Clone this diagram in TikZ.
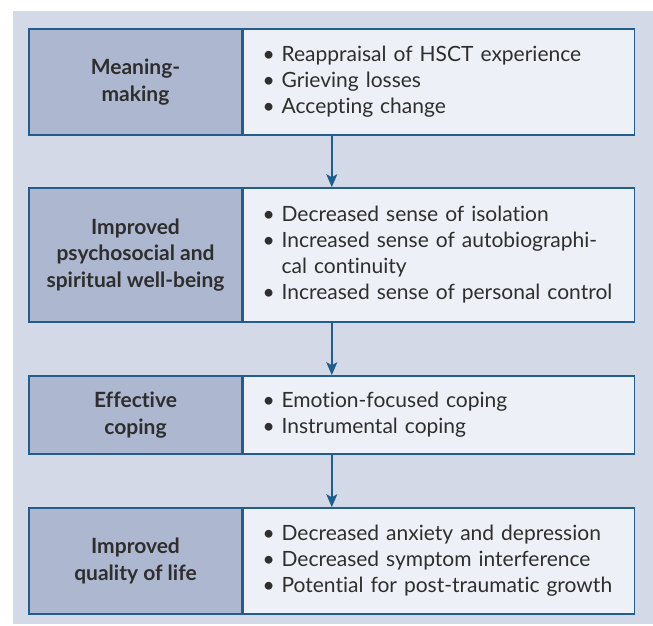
\documentclass[tikz,border=0pt]{standalone}
\usepackage{fontspec}
\setmainfont{Lato}[Ligatures=NoCommon]
\usetikzlibrary{arrows.meta, positioning}
\definecolor{panelgrey}{HTML}{D3D9E6}
\definecolor{stepblue}{HTML}{ADB7D0}
\definecolor{itemwhite}{HTML}{EDF0F6}
\definecolor{ruleblue}{HTML}{1F5E8E}
\definecolor{inkgrey}{HTML}{2E2E2E}
\newcommand{\itm}[1]{\mbox{\makebox[19pt][l]{\textbullet}#1}}
\newcommand{\cont}[1]{\mbox{\hspace*{19pt}#1}}

\begin{document}
\begin{tikzpicture}[x=1pt, y=-1pt,
      phase/.style={draw=ruleblue, line width=1.6pt, fill=stepblue,
                    text=inkgrey, font=\fontsize{21}{26.5}\selectfont\bfseries,
                    align=center, minimum width=213pt, inner sep=0pt},
      items/.style={draw=ruleblue, line width=1.6pt, fill=itemwhite,
                    text=inkgrey, font=\fontsize{21}{26}\selectfont,
                    align=left, text width=353pt, inner xsep=19pt,
                    inner ysep=0pt},
      arr/.style={-{Stealth[length=13pt, width=11pt, inset=3pt]},
                  line width=1.6pt, ruleblue}
    ]
      \useasboundingbox (0,0) rectangle (653,625);
      \fill[panelgrey] (13,11) rectangle (653,624);

      \node[phase, minimum height=106pt] (p1) at (135.5,82) {Meaning-\\making};
      \node[phase, minimum height=134pt] (p2) at (135.5,255) {Improved\\psychosocial and\\spiritual well-being};
      \node[phase, minimum height=78pt] (p3) at (135.5,415) {Effective\\coping};
      \node[phase, minimum height=106pt] (p4) at (135.5,561) {Improved\\quality of life};

      \node[items, minimum height=106pt, right=0pt of p1] (i1)
        {\itm{Reappraisal of HSCT experience}\\
         \itm{Grieving losses}\\
         \itm{Accepting change}};
      \node[items, minimum height=134pt, right=0pt of p2] (i2)
        {\itm{Decreased sense of isolation}\\
         \itm{Increased sense of autobiographi-}\\
         \cont{cal continuity}\\
         \itm{Increased sense of personal control}};
      \node[items, minimum height=78pt, right=0pt of p3] (i3)
        {\itm{Emotion-focused coping}\\
         \itm{Instrumental coping}};
      \node[items, minimum height=106pt, right=0pt of p4] (i4)
        {\itm{Decreased anxiety and depression}\\
         \itm{Decreased symptom interference}\\
         \itm{Potential for post-traumatic growth}};

      \draw[arr] ([xshift=89pt]i1.south west) -- ([xshift=89pt]i2.north west);
      \draw[arr] ([xshift=89pt]i2.south west) -- ([xshift=89pt]i3.north west);
      \draw[arr] ([xshift=89pt]i3.south west) -- ([xshift=89pt]i4.north west);
    \end{tikzpicture}
\end{document}
